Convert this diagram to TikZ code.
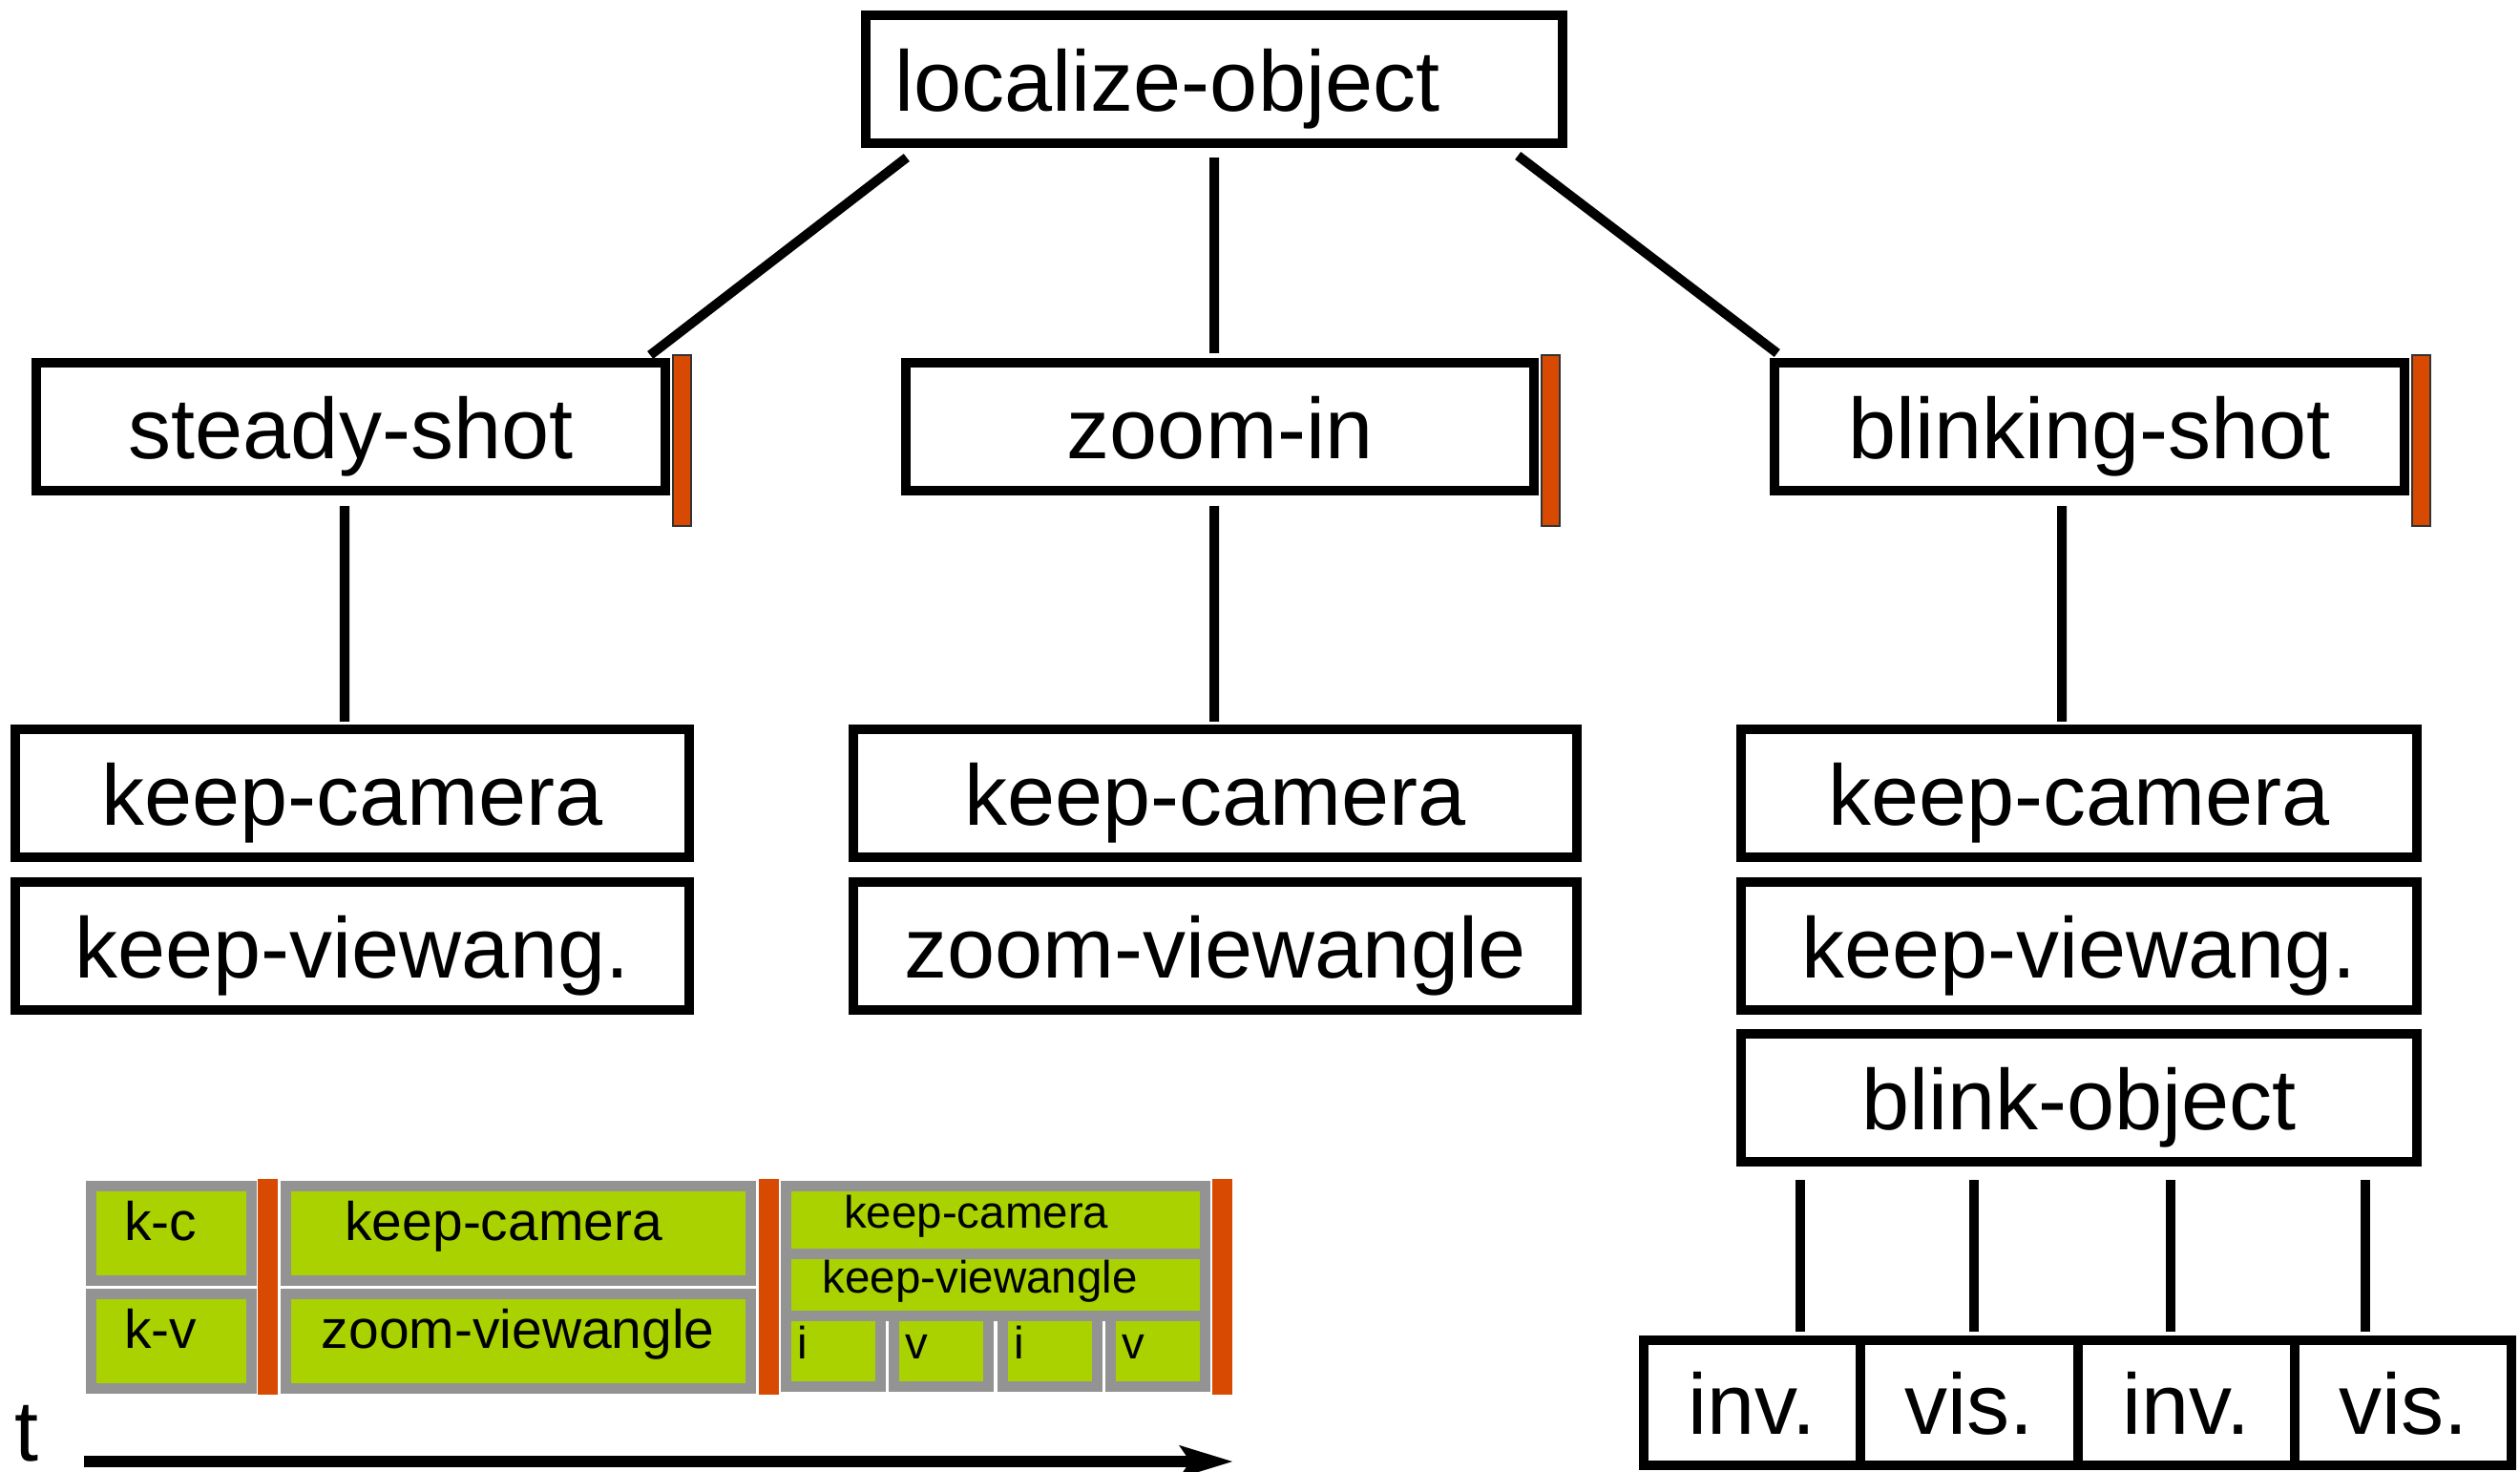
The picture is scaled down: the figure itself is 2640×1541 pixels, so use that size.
\documentclass[tikz,border=0pt]{standalone}
\usepackage{fontspec}
\setmainfont{Liberation Sans}
\usepackage{tikz}
\usetikzlibrary{arrows.meta}
\definecolor{barorange}{HTML}{D84A02}
\definecolor{taskgreen}{HTML}{A9D200}
\definecolor{taskgray}{HTML}{939393}
\newcommand{\fbig}{\fontsize{25.6}{30}\selectfont}
\newcommand{\fmid}{\fontsize{16.2}{19}\selectfont}
\newcommand{\fsmall}{\fontsize{13.5}{16}\selectfont}

\begin{document}
\begin{tikzpicture}[x=0.01cm,y=-0.01cm,
  box/.style={draw,line width=0.1cm,inner sep=0pt,outer sep=0pt,minimum height=1.34cm,font=\fbig,text height=0.66cm,text depth=0cm},
  gbox/.style={draw=taskgray,fill=taskgreen,line width=0.11cm,inner sep=0pt,outer sep=0pt,font=\fmid,text height=0.40cm,text depth=0.24cm},
  gsmall/.style={gbox,font=\fsmall,text height=0.34cm,text depth=0.18cm},
  gcell/.style={gsmall,minimum width=0.99cm,minimum height=0.74cm,text width=0.75cm,align=left,inner xsep=0.12cm},
  lshift/.style={execute at end node={\hspace*{#1}}},
  bar/.style={fill=barorange,draw=black!80,line width=0.02cm,minimum width=0.19cm,minimum height=1.79cm,inner sep=0pt,anchor=north west},
  tbar/.style={fill=barorange,minimum width=0.21cm,minimum height=2.26cm,inner sep=0pt},
  link/.style={line width=0.1cm},
  timeline/.style={line width=0.12cm,-{Stealth[length=0.55cm,width=0.32cm,inset=0.1cm]}}]
  \useasboundingbox (0,0) rectangle (2640,1541);

  \node[box,minimum width=7.30cm,text width=6.68cm,align=left,inner xsep=0.31cm] (loc) at (1272,83) {localize-object};

  \node[box,minimum width=6.59cm] (steady) at (367.5,447) {steady-shot};
  \node[box,minimum width=6.58cm] (zoomin) at (1278,447) {zoom-in};
  \node[box,minimum width=6.60cm] (blinking) at (2189,447) {blinking-shot};
  \node[bar] (sbar) at ([xshift=0.065cm,yshift=0.09cm]steady.north east) {};
  \node[bar] (zbar) at ([xshift=0.07cm,yshift=0.09cm]zoomin.north east) {};
  \node[bar] (bbar) at ([xshift=0.07cm,yshift=0.09cm]blinking.north east) {};

  \node[box,minimum width=7.06cm] (lkc) at (369,831) {keep-camera};
  \node[box,minimum width=7.06cm] (lkv) at (369,991) {keep-viewang.};
  \node[box,minimum width=7.58cm] (mkc) at (1273,831) {keep-camera};
  \node[box,minimum width=7.58cm] (mzv) at (1273,991) {zoom-viewangle};
  \node[box,minimum width=7.08cm] (rkc) at (2178,831) {keep-camera};
  \node[box,minimum width=7.08cm] (rkv) at (2178,991) {keep-viewang.};
  \node[box,minimum width=7.08cm] (blink) at (2178,1150) {blink-object};

  \node[box,minimum width=2.27cm,minimum height=1.31cm] (c1) at (1835.5,1469.5) {inv.};
  \node[box,minimum width=2.27cm,minimum height=1.31cm] (c2) at (2063,1469.5) {vis.};
  \node[box,minimum width=2.27cm,minimum height=1.31cm] (c3) at (2290.5,1469.5) {inv.};
  \node[box,minimum width=2.27cm,minimum height=1.31cm] (c4) at (2517.5,1469.5) {vis.};

  \draw[link] ([xshift=0.43cm,yshift=-0.15cm]loc.south west) -- ([xshift=-0.16cm,yshift=0.08cm]steady.north east);
  \draw[link] ([yshift=-0.15cm]loc.south) -- ([xshift=-0.06cm,yshift=0.10cm]zoomin.north);
  \draw[link] ([xshift=-0.47cm,yshift=-0.13cm]loc.south east) -- ([xshift=0.03cm,yshift=0.10cm]blinking.north west);
  \draw[link] ([xshift=-0.065cm,yshift=-0.16cm]steady.south) -- ([xshift=-0.08cm,yshift=0.08cm]lkc.north);
  \draw[link] ([xshift=-0.06cm,yshift=-0.16cm]zoomin.south) -- ([xshift=-0.01cm,yshift=0.08cm]mkc.north);
  \draw[link] ([xshift=-0.29cm,yshift=-0.16cm]blinking.south) -- ([xshift=-0.18cm,yshift=0.08cm]rkc.north);
  \foreach \i/\dx in {1/0.505,2/0.05,3/-0.165,4/-0.395}
    \draw[link] ([xshift=\dx cm,yshift=0.09cm]c\i.north) -- ++(0,-159);

  \node[gbox,lshift=0.22cm,minimum width=1.675cm,minimum height=0.985cm] (gkc) at (179.25,1291.75) {k-c};
  \node[gbox,lshift=0.22cm,minimum width=1.675cm,minimum height=0.985cm] (gkv) at (179.25,1404.75) {k-v};
  \node[gbox,lshift=0.30cm,minimum width=4.865cm,minimum height=0.985cm] (gmkc) at (542.75,1291.75) {keep-camera};
  \node[gbox,minimum width=4.865cm,minimum height=0.985cm] (gmzv) at (542.75,1404.75) {zoom-viewangle};
  \node[gsmall,lshift=0.40cm,minimum width=4.385cm,minimum height=0.71cm] (grkc) at (1042.75,1278) {keep-camera};
  \node[gsmall,lshift=0.32cm,minimum width=4.385cm,minimum height=0.65cm] (grkv) at (1042.75,1346) {keep-viewangle};
  \foreach \i/\x/\t in {1/873/i,2/986.3/v,3/1099.7/i,4/1213/v}
    \node[gcell] (g\i) at (\x,1415.5) {\t};
  \node[tbar] (tbar1) at (280.5,1348) {};
  \node[tbar] (tbar2) at (805,1348) {};
  \node[tbar] (tbar3) at (1280.5,1348) {};

  \coordinate (tstart) at (88,1531);
  \coordinate (tend) at (1292,1531);
  \draw[timeline] (tstart) -- (tend);
  \node[font=\fbig,anchor=base west,inner sep=0pt] (tlabel) at (15,1530) {t};
\end{tikzpicture}
\end{document}
